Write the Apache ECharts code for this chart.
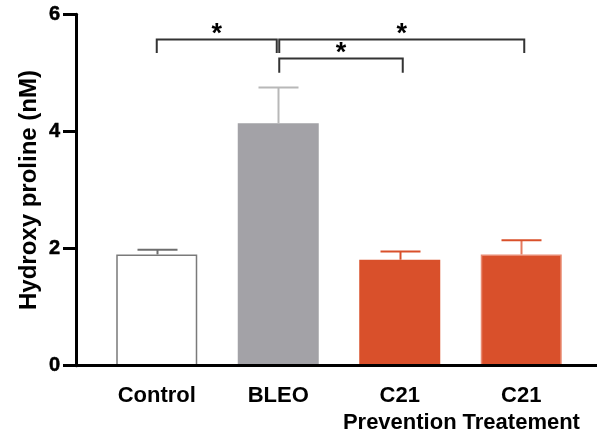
<!DOCTYPE html>
<html>
<head>
<meta charset="utf-8">
<script src="https://cdn.jsdelivr.net/npm/echarts@6/dist/echarts.min.js"></script>
<style>html,body{margin:0;padding:0;background:#fff;}#c{width:597px;height:432px;}</style>
</head>
<body>
<div id="c"></div>
<script>
const categories = ['Control', 'BLEO', 'C21\nPrevention', 'C21\nTreatement'];
const means = [1.90, 4.14, 1.81, 1.90];
const errUpper = [1.98, 4.75, 1.95, 2.14];
const yTickMin = 0, yTickMax = 6, yTickStep = 2;
const yAxisTitle = 'Hydroxy proline (nM)';
// significance brackets: [fromIndex, toIndex, barLevel, legBottomLevel]
const brackets = [[0, 1, 5.58, 5.34], [1, 3, 5.58, 5.34], [1, 2, 5.25, 5.00]];
const bracketLabels = ['*', '*', '*'];

const FONT = 'Liberation Sans, Arial, sans-serif';
const fills = ['#ffffff', '#a3a2a7', '#d9502b', '#d9502b'];
const borders = ['#7a7a7a', '#a3a2a7', '#d9502b', '#e98a72'];
const errStem = ['#6e6e6e', '#b8b8b8', '#d9502b', '#e57a5f'];
const errCap = ['#6e6e6e', '#b8b8b8', '#d9502b', '#d9502b'];

const chart = echarts.init(document.getElementById('c'), null, {renderer: 'canvas'});
const gridTop = 14.3, gridBottom = 66.3;

chart.setOption({
  animation: false,
  grid: [
    {left: 96, right: 15, top: gridTop, bottom: gridBottom, containLabel: false, outerBoundsMode: 'none'},
    {left: 76, right: 0, top: gridTop, bottom: gridBottom, containLabel: false, outerBoundsMode: 'none'}
  ],
  xAxis: [
    {
      type: 'category', gridIndex: 0, data: categories, z: 1,
      axisLine: {show: false}, axisTick: {show: false},
      axisLabel: {color: '#000', fontFamily: FONT, fontWeight: 'bold', fontSize: 22, lineHeight: 27, margin: 17, interval: 0}
    },
    {
      type: 'value', gridIndex: 1, min: 0, max: 1, z: 10,
      axisLine: {show: true, lineStyle: {color: '#000', width: 3}},
      axisTick: {show: false}, axisLabel: {show: false}, splitLine: {show: false}
    }
  ],
  yAxis: [
    {type: 'value', gridIndex: 0, min: yTickMin, max: yTickMax, show: false, splitLine: {show: false}},
    {
      type: 'value', gridIndex: 1, min: yTickMin, max: yTickMax, interval: yTickStep, z: 10,
      name: yAxisTitle, nameLocation: 'middle', nameRotate: 90, nameGap: 35, nameMoveOverlap: false,
      nameTextStyle: {color: '#000', fontFamily: FONT, fontWeight: 'bold', fontSize: 24},
      axisLine: {show: true, lineStyle: {color: '#000', width: 3}},
      axisTick: {show: true, length: 13, lineStyle: {color: '#000', width: 3}},
      axisLabel: {
        margin: 16, color: '#000', fontFamily: FONT, fontWeight: 'bold', fontSize: 20,
        formatter: function (v) { return '{t|' + v + '}'; },
        rich: {t: {color: '#000', fontFamily: FONT, fontWeight: 'bold', fontSize: 20,
                   textBorderColor: '#000', textBorderWidth: 0.5}}
      },
      splitLine: {show: false}
    }
  ],
  series: [
    {
      type: 'bar', xAxisIndex: 0, yAxisIndex: 0, barWidth: 81, z: 1,
      data: means.map((v, i) => ({value: v, itemStyle: {color: fills[i], borderColor: borders[i], borderWidth: 1.5}}))
    },
    {
      type: 'custom', xAxisIndex: 0, yAxisIndex: 0, z: 3,
      data: means.map((v, i) => [i, v, errUpper[i]]),
      encode: {x: 0, y: [1, 2]},
      renderItem: function (params, api) {
        const i = api.value(0);
        const base = api.coord([i, api.value(1)]);
        const top = api.coord([i, api.value(2)]);
        const x = Math.round(base[0]) + 0.5;
        return {
          type: 'group',
          children: [
            {type: 'line', shape: {x1: x, y1: base[1], x2: x, y2: top[1]}, style: {stroke: errStem[i], lineWidth: 2}},
            {type: 'line', shape: {x1: x - 20, y1: top[1], x2: x + 20, y2: top[1]}, style: {stroke: errCap[i], lineWidth: 2}}
          ]
        };
      }
    },
    {
      type: 'custom', xAxisIndex: 0, yAxisIndex: 0, z: 4,
      data: brackets,
      encode: {x: [0, 1], y: [2, 3]},
      renderItem: function (params, api) {
        const a = api.value(0), b = api.value(1);
        const p1 = api.coord([a, api.value(2)]);
        const p2 = api.coord([b, api.value(2)]);
        const leg = api.coord([a, api.value(3)]);
        const lx = p1[0] + (a === 1 ? 1 : 0);
        const rx = p2[0] + (b === 1 ? -1.5 : 3);
        const y = Math.round(p1[1]) + 0.5;
        return {
          type: 'group',
          children: [
            {type: 'polyline', shape: {points: [[lx, leg[1]], [lx, y], [rx, y], [rx, leg[1]]]},
             style: {stroke: '#333', lineWidth: 2, fill: null}},
            {type: 'text', style: {text: bracketLabels[params.dataIndex], x: (lx + rx) / 2, y: y - 5,
             fill: '#000', font: 'bold 27px ' + FONT, textAlign: 'center', textVerticalAlign: 'middle'}}
          ]
        };
      }
    }
  ]
});
</script>
</body>
</html>
